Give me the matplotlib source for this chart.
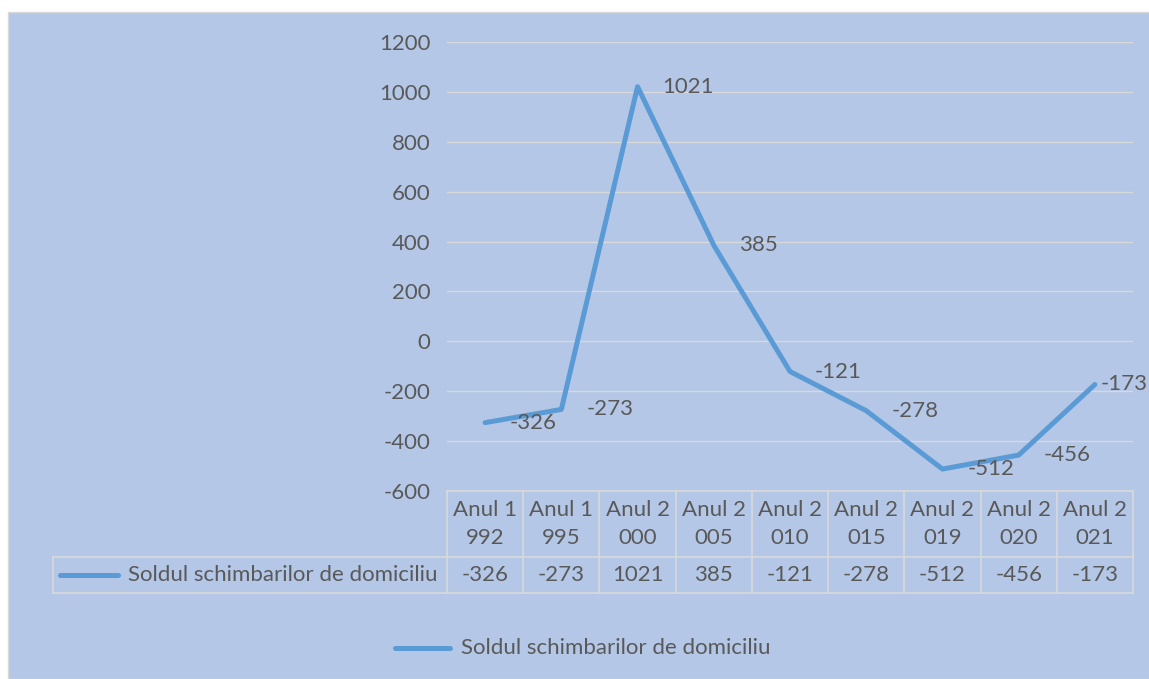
import numpy as np
import matplotlib.pyplot as plt
from matplotlib.lines import Line2D
from matplotlib.patches import Rectangle
from matplotlib.transforms import blended_transform_factory

years = ['1992', '1995', '2000', '2005', '2010', '2015', '2019', '2020', '2021']
categories = ['Anul ' + y for y in years]
values = [-326, -273, 1021, 385, -121, -278, -512, -456, -173]
series_name = 'Soldul schimbarilor de domiciliu'
yticks = [-600, -400, -200, 0, 200, 400, 600, 800, 1000, 1200]

bg = '#B4C7E7'
line_col = '#5B9BD5'
grid_col = '#D9D9D9'
txt_col = '#595959'
fs = 16
plt.rcParams['font.family'] = ['Lato', 'DejaVu Sans']
plt.rcParams['axes.unicode_minus'] = False

W, H = 1149, 679
fig = plt.figure(figsize=(W / 100, H / 100), dpi=100)
fig.patch.set_facecolor('white')
fig.add_artist(Rectangle((8 / W, 0), 1, 1 - 12 / H, transform=fig.transFigure,
                         facecolor=bg, edgecolor=grid_col, lw=1, zorder=0))

ax = fig.add_axes([447 / W, 1 - 491 / H, 686 / W, 449 / H])
ax.set_facecolor('none')
x = np.arange(len(values))
ax.plot(x, values, color=line_col, lw=3.6, solid_joinstyle='round',
        solid_capstyle='round', zorder=3, clip_on=False)
for xi, v in zip(x, values):
    # last label is pulled in so it stays inside the chart area
    dx = 4 if xi == len(values) - 1 else 18
    ax.annotate(str(v), (xi, v), xytext=(dx, 0), textcoords='offset points',
                ha='left', va='center', fontsize=fs, color=txt_col,
                annotation_clip=False)

ax.set_xlim(-0.5, len(values) - 0.5)
ax.set_ylim(-600, 1200)
ax.set_yticks(yticks)
ax.set_xticks([])
ax.tick_params(axis='y', length=0, pad=12, labelsize=fs, labelcolor=txt_col)
ax.grid(axis='y', color=grid_col, lw=1)
for s in ax.spines.values():
    s.set_visible(False)

# data table under the plot
tr = blended_transform_factory(ax.transData, ax.transAxes)
row1 = (491 - 557) / 449
row2 = (491 - 593) / 449
left = (53 - 447) / 686
kw = dict(color=grid_col, lw=1.2, clip_on=False)
ax.plot([-0.5, len(values) - 0.5], [0, 0], transform=tr, **kw)
ax.plot([left, 1], [row1, row1], transform=ax.transAxes, **kw)
ax.plot([left, 1], [row2, row2], transform=ax.transAxes, **kw)
ax.plot([left, left], [row1, row2], transform=ax.transAxes, **kw)
for b in np.arange(len(values) + 1) - 0.5:
    ax.plot([b, b], [0, row2], transform=tr, **kw)
for xi, y, v in zip(x, years, values):
    ax.text(xi, row1 / 2, 'Anul ' + y[0] + '\n' + y[1:], transform=tr,
            ha='center', va='center', fontsize=fs, color=txt_col,
            linespacing=1.55)
    ax.text(xi, (row1 + row2) / 2, str(v), transform=tr,
            ha='center', va='center', fontsize=fs, color=txt_col)

# series key in the table and legend below
fig.add_artist(Line2D([60 / W, 118 / W], [1 - 575 / H] * 2, color=line_col,
                      lw=3.6, solid_capstyle='round'))
fig.text(128 / W, 1 - 575 / H, series_name, ha='left', va='center',
         fontsize=fs, color=txt_col)
fig.add_artist(Line2D([395 / W, 450 / W], [1 - 648 / H] * 2, color=line_col,
                      lw=3.6, solid_capstyle='round'))
fig.text(461 / W, 1 - 648 / H, series_name, ha='left', va='center',
         fontsize=fs, color=txt_col)

fig.savefig('out.png', dpi=100)
